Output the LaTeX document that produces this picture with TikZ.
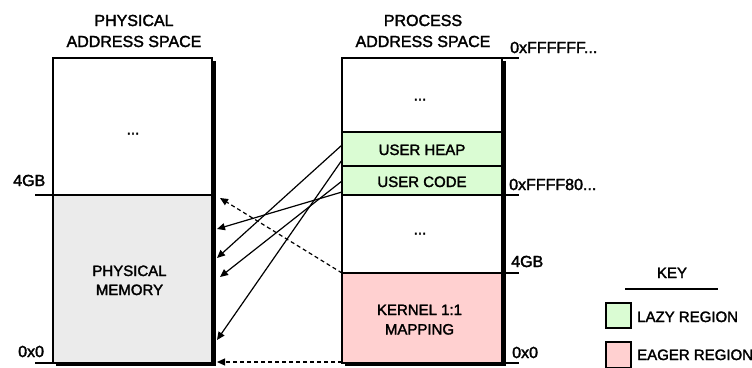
\documentclass[tikz,border=0pt]{standalone}
\usepackage{fontspec}
\setmainfont{Liberation Sans}[FakeBold=2]
\usetikzlibrary{arrows.meta}
\definecolor{greyc}{RGB}{235,235,235}
\definecolor{greenc}{RGB}{218,252,211}
\definecolor{pinkc}{RGB}{255,208,208}
\begin{document}
\begin{tikzpicture}[x=1pt,y=-1pt,
  box/.style={draw, line width=1.2pt, fill=white},
  ticko/.style={line width=1.5pt},
  lbl/.style={font=\fontsize{16}{19}\selectfont, anchor=base west, inner sep=0pt},
  ttl/.style={font=\fontsize{16}{19}\selectfont, anchor=base, inner sep=0pt},
  inner/.style={font=\fontsize{15}{18}\selectfont, anchor=base, inner sep=0pt},
  arr/.style={line width=1.2pt, -{Triangle[length=8pt,width=7pt]}},
  darr/.style={arr, dash pattern=on 4pt off 3pt}]
\useasboundingbox (0,0) rectangle (752,367);
\fill[white] (0,0) rectangle (752,367);

% titles
\node[ttl] (t1a) at (134,26) {PHYSICAL};
\node[ttl] (t1b) at (134,47) {ADDRESS SPACE};
\node[ttl] (t2a) at (423,26) {PROCESS};
\node[ttl] (t2b) at (423,47) {ADDRESS SPACE};

% shadows
\fill (56,61) rectangle (215.5,366);
\fill (345,61) rectangle (505.5,366);

% physical box
\draw[box] (53,58) rectangle (212,195);
\draw[box, fill=greyc] (53,195) rectangle (212,363);
\node[inner] (pdots) at (133,134.5) {...};
\node[inner] (pm1) at (129.5,276) {PHYSICAL};
\node[inner] (pm2) at (129.5,295) {MEMORY};

% process box
\draw[box] (342,58) rectangle (502,132);
\draw[box, fill=greenc] (342,132) rectangle (502,166);
\draw[box, fill=greenc] (342,166) rectangle (502,195);
\draw[box] (342,195) rectangle (502,273);
\draw[box, fill=pinkc] (342,273) rectangle (502,363);
\node[inner] (vd1) at (420,100.5) {...};
\node[inner] (heap) at (422,155) {USER HEAP};
\node[inner] (code) at (422,187) {USER CODE};
\node[inner] (vd2) at (420,234.5) {...};
\node[inner] (k1) at (419.5,315) {KERNEL 1:1};
\node[inner] (k2) at (419.5,334.5) {MAPPING};

% ticks and labels
\draw[ticko] (35,195) -- (53,195);
\draw[ticko] (35,363) -- (53,363);
\node[lbl] (l4gb) at (13,186) {4GB};
\node[lbl] (l0) at (18,357) {0x0};
\draw[ticko] (502,58) -- (519,58);
\draw[ticko] (502,195) -- (519,195);
\draw[ticko] (502,273) -- (519,273);
\draw[ticko] (502,363) -- (519,363);
\node[lbl] (rff) at (510,53) {0xFFFFFF...};
\node[lbl] (r80) at (509,190) {0xFFFF80...};
\node[lbl] (r4gb) at (511,267) {4GB};
\node[lbl] (r0) at (512,358) {0x0};

% connector endpoints
\coordinate (hA) at (342,145);
\coordinate (hB) at (342,160);
\coordinate (cC) at (342,181);
\coordinate (cD) at (342,192);
\coordinate (kT) at (342,273);
\coordinate (kB) at (342,362);
\coordinate (pA) at (217,258);
\coordinate (pB) at (217,340);
\coordinate (pC) at (220,277);
\coordinate (pD) at (217,229);
\coordinate (pT) at (220,198);
\coordinate (pBot) at (217,362);

\draw[arr] (hA) -- (pA);
\draw[arr] (hB) -- (pB);
\draw[arr] (cC) -- (pC);
\draw[arr] (cD) -- (pD);
\draw[darr] (kT) -- (pT);
\draw[darr] (kB) -- (pBot);

% key
\node[inner] (key) at (672,278) {KEY};
\draw[ticko] (625,289) -- (718,289);
\draw[box, fill=greenc] (606,303) rectangle (631,328);
\node[inner, anchor=base west] (lazy) at (637,322) {LAZY REGION};
\draw[box, fill=pinkc] (606,342) rectangle (631,368);
\node[inner, anchor=base west] (eager) at (637,360) {EAGER REGION};
\end{tikzpicture}
\end{document}
